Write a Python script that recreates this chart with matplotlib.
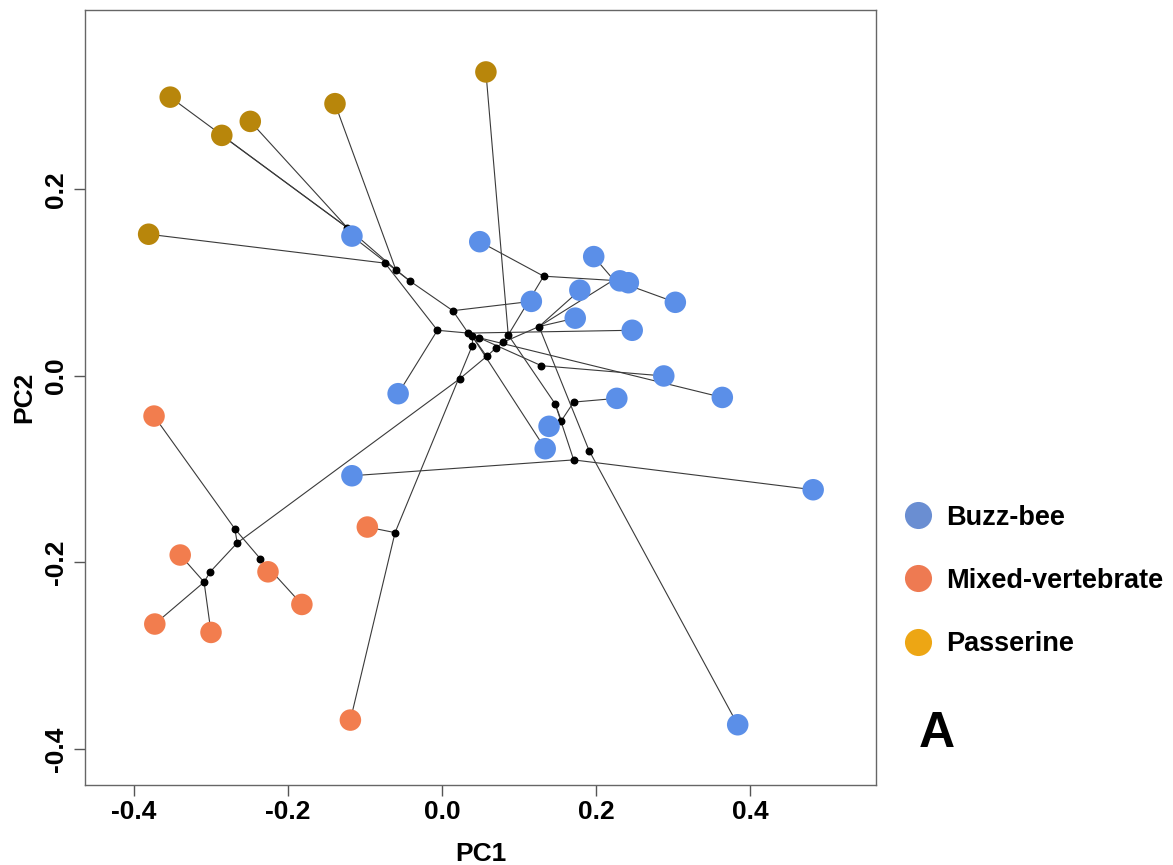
import matplotlib
matplotlib.use("Agg")
import matplotlib.pyplot as plt
from matplotlib.lines import Line2D

plt.rcParams['font.family'] = ['Liberation Sans', 'DejaVu Sans']
plt.rcParams['font.weight'] = 'bold'

# tip scores (PC1, PC2) and pollination group
tip_names = ['P1', 'P2', 'P3', 'P4', 'P5', 'P6',
             'B1', 'B2', 'B3', 'B4a', 'B4b', 'B5', 'B6', 'B7', 'B8', 'B9',
             'B10', 'B11', 'B12', 'B13', 'B14', 'B15', 'B16', 'B17', 'B18',
             'M1', 'M2', 'M3', 'M4', 'M5', 'M6', 'M7', 'M8']
tip_pc1 = [-0.353, -0.286, -0.249, -0.139, 0.057, -0.381,
           -0.117, 0.049, 0.197, 0.231, 0.242, 0.303, 0.116, 0.179, 0.173, 0.247,
           0.288, 0.364, 0.227, 0.139, 0.134, -0.057, -0.117, 0.482, 0.384,
           -0.374, -0.340, -0.226, -0.182, -0.373, -0.300, -0.097, -0.119]
tip_pc2 = [0.299, 0.258, 0.273, 0.292, 0.326, 0.152,
           0.150, 0.144, 0.128, 0.102, 0.100, 0.079, 0.080, 0.092, 0.062, 0.049,
           0.000, -0.023, -0.024, -0.054, -0.078, -0.019, -0.107, -0.122, -0.374,
           -0.043, -0.192, -0.210, -0.245, -0.266, -0.275, -0.162, -0.369]
tip_group = ['Passerine'] * 6 + ['Buzz-bee'] * 19 + ['Mixed-vertebrate'] * 8

# reconstructed ancestral nodes
node_names = ['a', 'b', 'c', 'd', 'e', 'f', 'g', 'h', 'i', 'j', 'k', 'l', 'm',
              'n', 'o', 'p', 'q', 'r', 's', 't', 'u', 'v', 'w', 'x', 'y', 'z',
              'z2', 'aa', 'pp', 'bb']
node_pc1 = [-0.074, -0.060, -0.042, 0.014, -0.006, 0.034, 0.039, 0.048, 0.039,
            0.058, 0.070, 0.079, 0.086, 0.132, 0.126, 0.129, 0.023, 0.147,
            0.171, 0.155, 0.191, 0.171, -0.269, -0.266, -0.236, -0.301,
            -0.309, -0.061, -0.123, 0.223]
node_pc2 = [0.121, 0.114, 0.102, 0.070, 0.049, 0.046, 0.043, 0.041, 0.032,
            0.021, 0.030, 0.036, 0.044, 0.107, 0.053, 0.011, -0.003, -0.030,
            -0.028, -0.048, -0.080, -0.090, -0.164, -0.179, -0.196, -0.210,
            -0.221, -0.168, 0.159, 0.103]

# branches (parent, child)
edges = [('g', 'f'), ('g', 'i'), ('g', 'h'), ('g', 'j'), ('g', 'B14'),
         ('f', 'd'), ('f', 'e'), ('f', 'B9'),
         ('d', 'B6'), ('d', 'c'), ('c', 'b'), ('c', 'B1'),
         ('b', 'P4'), ('b', 'pp'), ('pp', 'P1'), ('pp', 'P2'), ('pp', 'P3'),
         ('e', 'B15'), ('e', 'a'), ('a', 'P6'),
         ('h', 'B11'), ('h', 'p'), ('p', 'B10'),
         ('j', 'q'), ('j', 'k'), ('k', 'l'), ('l', 'o'), ('l', 'm'),
         ('m', 'P5'), ('m', 'n'), ('m', 'r'),
         ('n', 'B2'), ('n', 'B4a'),
         ('o', 'bb'), ('o', 'B7'), ('o', 'B8'), ('o', 'u'),
         ('bb', 'B3'), ('bb', 'B4b'), ('bb', 'B5'),
         ('u', 'B18'),
         ('r', 't'), ('r', 'v'), ('t', 'B13'), ('t', 's'), ('s', 'B12'),
         ('v', 'B16'), ('v', 'B17'),
         ('i', 'aa'), ('aa', 'M7'), ('aa', 'M8'),
         ('q', 'x'), ('x', 'w'), ('x', 'z'), ('z', 'z2'),
         ('z2', 'M2'), ('z2', 'M5'), ('z2', 'M6'),
         ('w', 'M1'), ('w', 'y'), ('y', 'M3'), ('y', 'M4')]

groups = ['Buzz-bee', 'Mixed-vertebrate', 'Passerine']
point_colors = {'Buzz-bee': '#5B8FE8', 'Mixed-vertebrate': '#F27D4E', 'Passerine': '#B8860B'}
legend_colors = {'Buzz-bee': '#6A8ED2', 'Mixed-vertebrate': '#EE7A52', 'Passerine': '#EDA614'}

pos = {}
for nm, px, py in zip(tip_names, tip_pc1, tip_pc2):
    pos[nm] = (px, py)
for nm, px, py in zip(node_names, node_pc1, node_pc2):
    pos[nm] = (px, py)

fig = plt.figure(figsize=(11.73, 8.65), dpi=100)
ax = fig.add_axes([0.0725, 0.0925, 0.6743, 0.896])

for p, c in edges:
    ax.plot([pos[p][0], pos[c][0]], [pos[p][1], pos[c][1]],
            color='#3a3a3a', lw=0.8, zorder=1)

ax.scatter(node_pc1, node_pc2, s=22, color='black', zorder=2)
ax.scatter(tip_pc1, tip_pc2, s=240, zorder=3, linewidths=0,
           color=[point_colors[g] for g in tip_group])

ax.set_xlim(-0.4636, 0.5636)
ax.set_ylim(-0.4386, 0.3925)
ax.set_xticks([-0.4, -0.2, 0.0, 0.2, 0.4])
ax.set_yticks([-0.4, -0.2, 0.0, 0.2])
ax.set_xticklabels(['-0.4', '-0.2', '0.0', '0.2', '0.4'], fontsize=19, fontweight='bold')
ax.set_yticklabels(['-0.4', '-0.2', '0.0', '0.2'], fontsize=19, fontweight='bold',
                   rotation=90, va='center')
ax.tick_params(length=8, width=1, color='#555555')
ax.tick_params(axis='x', pad=3)
ax.tick_params(axis='y', pad=4)
for sp in ax.spines.values():
    sp.set_color('#666666')
    sp.set_linewidth(1)
ax.set_xlabel('PC1', fontsize=19, fontweight='bold', labelpad=13)
ax.set_ylabel('PC2', fontsize=19, fontweight='bold', labelpad=6)

handles = [Line2D([0], [0], marker='o', linestyle='', markersize=19.5,
                  markerfacecolor=legend_colors[g], markeredgewidth=0)
           for g in groups]
fig.legend(handles, groups, loc='upper left', bbox_to_anchor=(0.757, 0.432),
           frameon=False, labelspacing=1.37, handletextpad=0.45, handlelength=1.2,
           borderpad=0, prop={'weight': 'bold', 'size': 19.5})
fig.text(0.783, 0.1365, 'A', fontsize=36, fontweight='bold')

fig.savefig('out.png', dpi=100)
